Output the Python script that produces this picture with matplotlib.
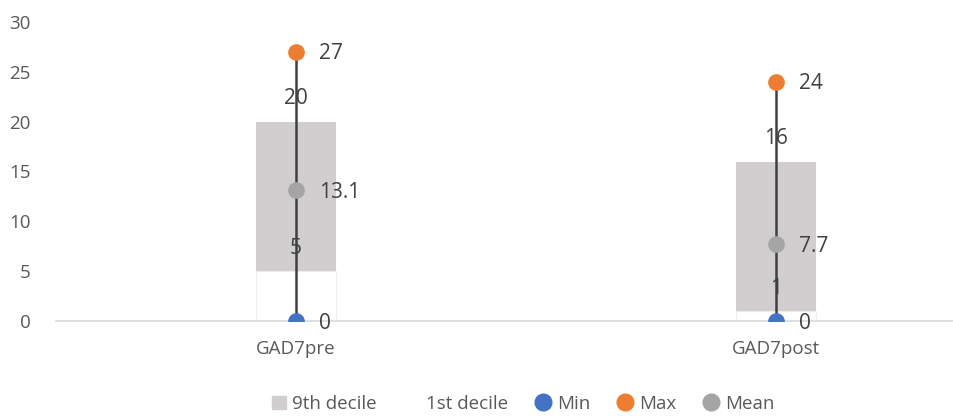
import matplotlib.pyplot as plt

plt.rcParams['font.family'] = ['Open Sans', 'DejaVu Sans']

groups = ['GAD7pre', 'GAD7post']
decile9 = [20, 16]
decile1 = [5, 1]
mins = [0, 0]
maxs = [27, 24]
means = [13.1, 7.7]

txt = '#404040'
fig = plt.figure(figsize=(9.54, 4.16), dpi=100)
ax = fig.add_axes([56 / 954, 95 / 416, 960 / 954, 299 / 416])

x = list(range(len(groups)))
w = 0.165

# overlapping bars: 9th decile in grey, 1st decile in white on top
b9 = ax.bar(x, decile9, width=w, color='#D0CECE', zorder=1, label='9th decile')
b1 = ax.bar(x, decile1, width=w, color='white', edgecolor='#EDEDED', linewidth=0.8,
            zorder=2, label='1st decile')

# min-max line
for i in x:
    ax.plot([i, i], [mins[i], maxs[i]], color='#404040', linewidth=1.8, zorder=3)

pmin, = ax.plot(x, mins, 'o', color='#4472C4', markersize=11, zorder=4, label='Min')
pmax, = ax.plot(x, maxs, 'o', color='#ED7D31', markersize=11, zorder=4, label='Max')
pmean, = ax.plot(x, means, 'o', color='#A5A5A5', markersize=11, zorder=4, label='Mean')

fs = 13.5
dfs = 15
for i in x:
    ax.annotate(str(decile9[i]), (i, decile9[i]), xytext=(0, 16.5), textcoords='offset points',
                ha='center', va='center', fontsize=dfs, color=txt, zorder=5)
    ax.annotate(str(decile1[i]), (i, decile1[i]), xytext=(0, 16.5), textcoords='offset points',
                ha='center', va='center', fontsize=dfs, color=txt, zorder=5)
    for v in (mins[i], maxs[i], means[i]):
        ax.annotate(f'{v:g}', (i, v), xytext=(16.5, -1.5), textcoords='offset points',
                    ha='left', va='center', fontsize=dfs, color=txt, zorder=5)

ax.set_xlim(-0.5, 1.5)
ax.set_ylim(0, 30)
ax.set_yticks(range(0, 31, 5))
ax.set_xticks(x)
ax.set_xticklabels(groups)
ax.tick_params(axis='both', length=0, labelsize=fs, labelcolor='#595959')
ax.tick_params(axis='y', pad=18)
ax.tick_params(axis='x', pad=14)
for s in ['top', 'right', 'left']:
    ax.spines[s].set_visible(False)
ax.spines['bottom'].set_color('#D9D9D9')
ax.spines['bottom'].set_linewidth(1.2)

h1 = plt.Rectangle((0, 0), 1, 1, color='#D0CECE')
h2 = plt.Rectangle((0, 0), 1, 1, color='white')
pmin_l, = ax.plot([], [], 'o', color='#4472C4', markersize=12)
pmax_l, = ax.plot([], [], 'o', color='#ED7D31', markersize=12)
pmean_l, = ax.plot([], [], 'o', color='#A5A5A5', markersize=12)
leg = fig.legend([h1, h2, pmin_l, pmax_l, pmean_l],
                 ['9th decile', '1st decile', 'Min', 'Max', 'Mean'],
                 loc='center', bbox_to_anchor=(523 / 954, 12 / 416), ncol=5,
                 frameon=False, fontsize=fs, handlelength=0.75, handleheight=0.75,
                 handletextpad=0.35, columnspacing=1.5, labelcolor='#595959')

fig.savefig('out.png', dpi=100)
